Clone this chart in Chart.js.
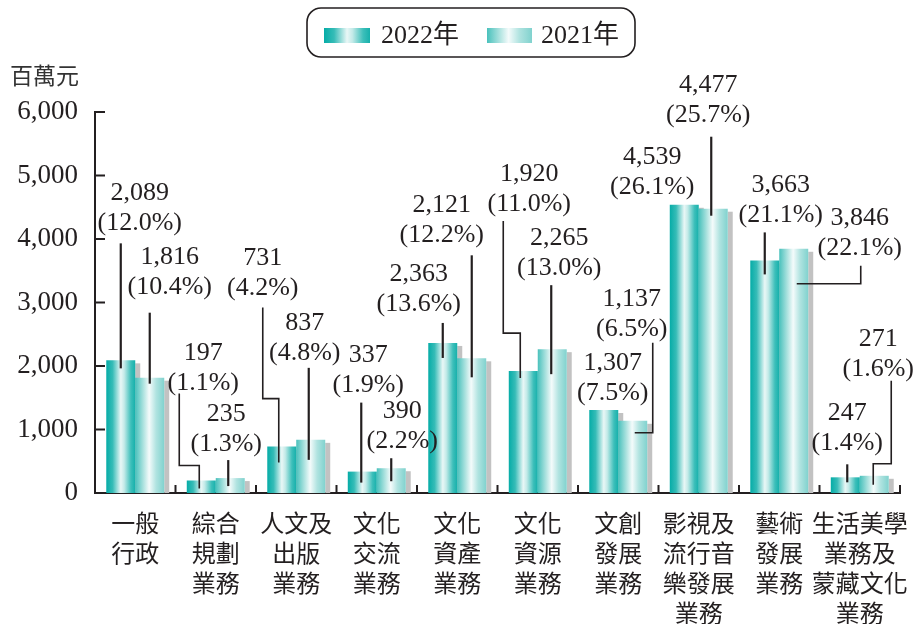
<!DOCTYPE html>
<html lang="zh-Hant">
<head>
<meta charset="UTF-8">
<title>文化部各業務經費</title>
<script src="https://cdn.jsdelivr.net/npm/chart.js"></script>
<style>
  html, body { margin: 0; padding: 0; background: #fff; }
  #wrap { width: 913px; height: 624px; position: relative; }
</style>
</head>
<body>
<div id="wrap"><canvas id="chart"></canvas></div>
<script>
// data
const categories = [
  ['一般', '行政'],
  ['綜合', '規劃', '業務'],
  ['人文及', '出版', '業務'],
  ['文化', '交流', '業務'],
  ['文化', '資產', '業務'],
  ['文化', '資源', '業務'],
  ['文創', '發展', '業務'],
  ['影視及', '流行音', '樂發展', '業務'],
  ['藝術', '發展', '業務'],
  ['生活美學', '業務及', '蒙藏文化', '業務']
];
const values2022 = [2089, 197, 731, 337, 2363, 1920, 1307, 4539, 3663, 247];
const values2021 = [1816, 235, 837, 390, 2121, 2265, 1137, 4477, 3846, 271];
const share2022 = ['12.0', '1.1', '4.2', '1.9', '13.6', '11.0', '7.5', '26.1', '21.1', '1.4'];
const share2021 = ['10.4', '1.3', '4.8', '2.2', '12.2', '13.0', '6.5', '25.7', '22.1', '1.6'];
const seriesNames = ['2022年', '2021年'];
const yMax = 6000;
const yStep = 1000;
const unitLabel = '百萬元';

// callout placement, relative to the top centre of each bar (layout only)
const callouts2022 = [
  { dx: 19, dy: -167, path: [[0, -117], [0, 8]] },
  { dx: 2, dy: -127, path: [[-22, -87], [-22, -15], [-2, -15], [-2, 8]] },
  { dx: -19, dy: -188, path: [[-19, -139], [-19, -48], [-3, -48], [-3, 16]] },
  { dx: 6, dy: -116, path: [[-1, -69], [-1, 11]] },
  { dx: -24, dy: -69, path: [[0, -20], [0, 15]] },
  { dx: 6, dy: -197, path: [[-20, -150], [-20, -38], [-3, -38], [-3, 7]] },
  { dx: 9, dy: -47, path: [] },
  { dx: -32, dy: -48, path: [] },
  { dx: 16, dy: -75, path: [[0, -28], [0, 14]] },
  { dx: 2, dy: -64, path: [[2, -13], [2, 5]] }
];
const callouts2021 = [
  { dx: 20, dy: -121, path: [[0, -65], [0, 6]] },
  { dx: -4, dy: -64, path: [[-2, -18], [-2, 8]] },
  { dx: -6, dy: -117, path: [[-2, -72], [-2, 20]] },
  { dx: 11, dy: -57, path: [[0, -10], [0, 13]] },
  { dx: -30, dy: -153, path: [[0, -103], [0, 19]] },
  { dx: 7, dy: -111, path: [[-1, -64], [-1, 25]] },
  { dx: -1, dy: -122, path: [[20, -78], [20, 12], [2, 12]] },
  { dx: -5, dy: -124, path: [[-2, -72], [-2, 7]] },
  { dx: 66, dy: -31, path: [[67, 17], [67, 35], [3, 35]] },
  { dx: 4, dy: -137, path: [[17, -95], [17, -12], [-1, -12], [-1, 9]] }
];

const INK = '#231f20';
const SERIF = "'Liberation Serif', 'Noto Sans CJK TC', serif";
const CJK = "'Noto Sans CJK TC', sans-serif";
const CAT_PCT = 0.72;

const stops2022 = [[0, '#05aca7'], [0.22, '#36bcb7'], [0.5, '#e9f7f6'], [0.62, '#c3eae8'], [0.85, '#3dbfba'], [1, '#16b0ab']];
const stops2021 = [[0, '#49c1bc'], [0.3, '#b4e5e2'], [0.48, '#f4fbfb'], [0.72, '#b0e3e0'], [1, '#80d2ce']];

function makeGrad(ctx, left, w, stops) {
  const g = ctx.createLinearGradient(left, 0, left + w, 0);
  stops.forEach(s => g.addColorStop(s[0], s[1]));
  return g;
}

function barFill(stops) {
  return function (c) {
    const chart = c.chart;
    const xs = chart.scales.x;
    if (c.type !== 'data' || !xs || !chart.chartArea) return stops[1][1];
    const w = xs.width / categories.length * CAT_PCT / 2;
    const mid = xs.getPixelForValue(c.dataIndex);
    const left = c.datasetIndex === 0 ? mid - w : mid;
    return makeGrad(chart.ctx, left, w, stops);
  };
}

const fmt = v => v.toLocaleString('en-US');

const decor = {
  id: 'decor',
  beforeDatasetsDraw(chart) {
    const ctx = chart.ctx;
    ctx.save();
    ctx.fillStyle = '#c2c2c2';
    chart.data.datasets.forEach((ds, di) => {
      chart.getDatasetMeta(di).data.forEach(el => {
        const p = el.getProps(['x', 'y', 'width', 'base'], true);
        ctx.fillRect(p.x + p.width / 2, p.y + 3, 5, p.base - p.y - 3);
      });
    });
    ctx.restore();
  },
  afterDatasetsDraw(chart) {
    const ctx = chart.ctx;
    const sets = [
      { vals: values2022, share: share2022, spots: callouts2022 },
      { vals: values2021, share: share2021, spots: callouts2021 }
    ];
    ctx.save();
    sets.forEach((s, di) => {
      const meta = chart.getDatasetMeta(di);
      meta.data.forEach((el, i) => {
        const p = el.getProps(['x', 'y'], true);
        const sp = s.spots[i];
        if (sp.path.length) {
          ctx.beginPath();
          ctx.strokeStyle = INK;
          ctx.lineWidth = sp.path.length > 2 ? 1.6 : 2.2;
          sp.path.forEach((pt, k) => {
            const px = p.x + pt[0], py = p.y + pt[1];
            if (k === 0) ctx.moveTo(px, py); else ctx.lineTo(px, py);
          });
          ctx.stroke();
        }
        ctx.fillStyle = INK;
        ctx.font = '26px ' + SERIF;
        ctx.textAlign = 'center';
        ctx.textBaseline = 'middle';
        ctx.fillText(fmt(s.vals[i]), p.x + sp.dx, p.y + sp.dy);
        ctx.fillText('(' + s.share[i] + '%)', p.x + sp.dx, p.y + sp.dy + 30);
      });
    });
    ctx.restore();
  },
  afterDraw(chart) {
    const ctx = chart.ctx;
    const a = chart.chartArea;
    const ys = chart.scales.y;
    const xs = chart.scales.x;
    ctx.save();
    // inner tick marks
    ctx.strokeStyle = INK;
    ctx.lineWidth = 2;
    ctx.beginPath();
    for (let v = 0; v <= yMax; v += yStep) {
      const py = ys.getPixelForValue(v);
      ctx.moveTo(a.left, py);
      ctx.lineTo(a.left + 10, py);
    }
    const cw = xs.width / categories.length;
    for (let i = 1; i <= categories.length; i++) {
      const px = a.left + cw * i;
      ctx.moveTo(px, a.bottom);
      ctx.lineTo(px, a.bottom - 8);
    }
    ctx.stroke();

    // unit label
    ctx.fillStyle = '#333';
    ctx.font = '23px ' + CJK;
    ctx.textAlign = 'left';
    ctx.textBaseline = 'middle';
    ctx.fillText(unitLabel, 10, 75);

    // legend box
    const bx = 307, by = 8, bw = 328, bh = 49, r = 14;
    ctx.beginPath();
    ctx.roundRect(bx, by, bw, bh, r);
    ctx.lineWidth = 1.6;
    ctx.strokeStyle = INK;
    ctx.stroke();
    const items = [
      { x: 324, w: 46, stops: stops2022, tx: 381 },
      { x: 487, w: 45, stops: stops2021, tx: 541 }
    ];
    items.forEach((it, k) => {
      ctx.fillStyle = makeGrad(ctx, it.x, it.w, it.stops);
      ctx.fillRect(it.x, 28, it.w, 15);
      ctx.fillStyle = INK;
      ctx.font = '26px ' + SERIF;
      ctx.fillText(seriesNames[k], it.tx, 36);
    });
    ctx.restore();
  }
};

new Chart(document.getElementById('chart'), {
  type: 'bar',
  data: {
    labels: categories,
    datasets: [
      { label: seriesNames[0], data: values2022, backgroundColor: barFill(stops2022), borderWidth: 0 },
      { label: seriesNames[1], data: values2021, backgroundColor: barFill(stops2021), borderWidth: 0 }
    ]
  },
  options: {
    responsive: true,
    maintainAspectRatio: false,
    animation: false,
    datasets: { bar: { categoryPercentage: CAT_PCT, barPercentage: 1.0 } },
    layout: { padding: { top: 112, right: 13, left: 0, bottom: 0 } },
    plugins: { legend: { display: false }, tooltip: { enabled: false } },
    scales: {
      x: {
        grid: { display: false, drawTicks: false },
        border: { display: true, color: INK, width: 2 },
        ticks: {
          color: INK,
          font: { family: CJK, size: 24, lineHeight: 1.25 },
          padding: 15,
          maxRotation: 0,
          autoSkip: false
        },
        afterFit(s) { s.height = 131; s.paddingLeft = 0; s.paddingRight = 0; }
      },
      y: {
        min: 0,
        max: yMax,
        grid: { display: false, drawTicks: false },
        border: { display: true, color: INK, width: 2 },
        ticks: {
          stepSize: yStep,
          color: INK,
          font: { family: SERIF, size: 27 },
          padding: 17,
          callback: v => fmt(v)
        },
        afterFit(s) { s.width = 95; s.paddingTop = 0; s.paddingBottom = 0; }
      }
    }
  },
  plugins: [decor]
});
</script>
</body>
</html>
